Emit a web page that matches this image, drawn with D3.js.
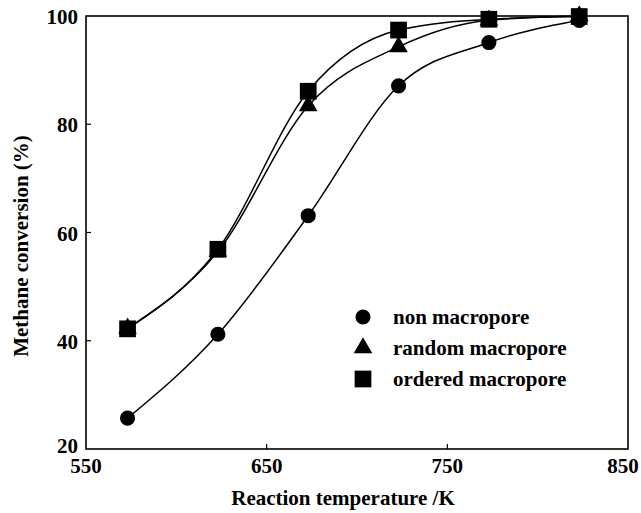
<!DOCTYPE html>
<html lang="en">
<head>
  <meta charset="UTF-8">
  <script src="https://d3js.org/d3.v7.min.js"></script>
  <title>methane conversion</title>
  <style>
    body { margin: 0; background: #fff; }
    text { font-family: "Times New Roman", "Liberation Serif", serif; font-weight: bold; fill: #000; }
  </style>
</head>
<body>
  <svg id="chart" width="641" height="513"></svg>
  <script>
    // temperatures (K)
    const temps = [573, 623, 673, 723, 773, 823];
    // methane conversion (%)
    const nonMacro = [25.7, 41.2, 63.1, 87.1, 95.1, 99.2];
    const randomMacro = [42.3, 56.5, 83.4, 94.3, 99.2, 100];
    const orderedMacro = [42.2, 56.9, 86.1, 97.4, 99.4, 99.9];
    const seriesNames = ["non macropore", "random macropore", "ordered macropore"];
    const xTicks = [550, 650, 750, 850];
    const yTicks = [20, 40, 60, 80, 100];

    const svg = d3.select("#chart");
    const margin = { top: 16, right: 13, bottom: 64, left: 86 };
    const width = 641 - margin.left - margin.right;
    const height = 513 - margin.top - margin.bottom;

    const x = d3.scaleLinear().domain([550, 850]).range([0, width]);
    const y = d3.scaleLinear().domain([20, 100]).range([height, 0]);

    const g = svg.append("g").attr("transform", `translate(${margin.left},${margin.top})`);

    // frame
    g.append("rect")
      .attr("width", width).attr("height", height)
      .attr("fill", "none").attr("stroke", "#000").attr("stroke-width", 1.6);

    // inward ticks
    g.selectAll(".xt").data(xTicks.slice(1, -1)).join("line")
      .attr("x1", d => x(d)).attr("x2", d => x(d))
      .attr("y1", height).attr("y2", height - 5)
      .attr("stroke", "#000").attr("stroke-width", 1.2);
    g.selectAll(".yt").data(yTicks.slice(1, -1)).join("line")
      .attr("x1", 0).attr("x2", 5)
      .attr("y1", d => y(d)).attr("y2", d => y(d))
      .attr("stroke", "#000").attr("stroke-width", 1.2);

    // tick labels
    g.selectAll(".xl").data(xTicks).join("text")
      .attr("x", d => x(d) - (d === 850 ? 5 : 0)).attr("y", height + 24)
      .attr("text-anchor", "middle").attr("font-size", 21)
      .text(d => d);
    g.selectAll(".yl").data(yTicks).join("text")
      .attr("x", -8).attr("y", d => y(d) + (d === 20 ? 4 : 8))
      .attr("text-anchor", "end").attr("font-size", 21)
      .text(d => d);

    // axis titles
    svg.append("text")
      .attr("x", 343).attr("y", 505)
      .attr("text-anchor", "middle").attr("font-size", 21)
      .text("Reaction temperature /K");
    svg.append("text")
      .attr("transform", "translate(28,246) rotate(-90)")
      .attr("text-anchor", "middle").attr("font-size", 21)
      .text("Methane conversion (%)");

    const allSeries = [nonMacro, randomMacro, orderedMacro];
    const lineGen = d3.line()
      .x((d, i) => x(temps[i]))
      .y(d => y(d))
      .curve(d3.curveMonotoneX);

    g.selectAll("path.line").data(allSeries).join("path")
      .attr("class", "line")
      .attr("fill", "none").attr("stroke", "#000").attr("stroke-width", 1.5)
      .attr("d", d => lineGen(d));

    const symbols = [d3.symbolCircle, d3.symbolTriangle, d3.symbolSquare];
    const sizes = [180, 150, 280];

    allSeries.forEach((vals, k) => {
      g.selectAll(`.m${k}`).data(vals).join("path")
        .attr("class", `m${k}`)
        .attr("transform", (d, i) => `translate(${x(temps[i])},${y(d)})`)
        .attr("d", d3.symbol().type(symbols[k]).size(sizes[k]))
        .attr("fill", "#000");
    });

    // legend
    const legend = svg.append("g").attr("transform", "translate(363,317)");
    seriesNames.forEach((name, k) => {
      legend.append("path")
        .attr("transform", `translate(0,${k * 31})`)
        .attr("d", d3.symbol().type(symbols[k]).size(sizes[k]))
        .attr("fill", "#000");
      legend.append("text")
        .attr("x", 30).attr("y", k * 31 + 7)
        .attr("font-size", 21)
        .text(name);
    });
  </script>
</body>
</html>
